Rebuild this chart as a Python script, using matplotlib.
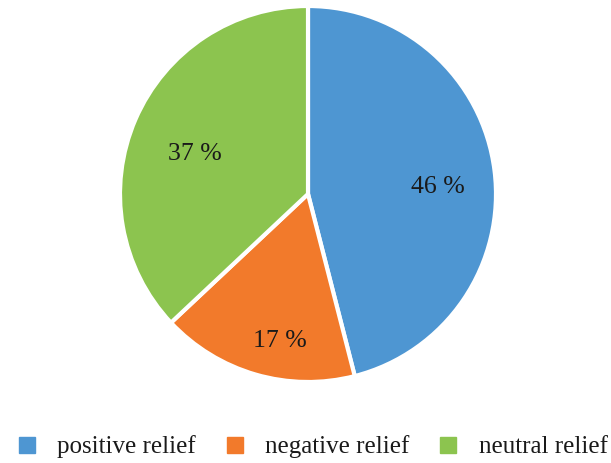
import matplotlib
matplotlib.use("Agg")
import matplotlib.pyplot as plt
from matplotlib.lines import Line2D

plt.rcParams['font.family'] = ['Liberation Serif', 'DejaVu Serif']

labels = ['positive relief', 'negative relief', 'neutral relief']
shares = [46, 17, 37]
colors = ['#4E96D2', '#F27A2B', '#8CC44F']
# where the percentage labels sit, in pie radius units (as in the original)
label_xy = [(0.69, 0.035), (-0.15, -0.78), (-0.60, 0.215)]

W, H = 611, 463
fig = plt.figure(figsize=(W / 100, H / 100), dpi=100)
cx, cy, r = 308, 194, 188
ax = fig.add_axes([(cx - r) / W, (H - cy - r) / H, 2 * r / W, 2 * r / H])

wedges, texts, autotexts = ax.pie(
    shares, colors=colors, startangle=90, counterclock=False,
    autopct=lambda p: f'{p:.0f} %',
    wedgeprops=dict(edgecolor='white', linewidth=3),
    textprops=dict(fontsize=18.5, color='#1a1a1a'))
ax.set_aspect('equal')
ax.set_xlim(-1, 1)
ax.set_ylim(-1, 1)

for t, xy in zip(autotexts, label_xy):
    t.set_position(xy)

handles = [Line2D([], [], marker='s', linestyle='none', markersize=12.2,
                  markerfacecolor=c, markeredgecolor=c) for c in colors]
leg = fig.legend(handles, labels, loc='center', ncol=3, frameon=False,
                 bbox_to_anchor=(311 / W, 1 - 447 / H), fontsize=18,
                 handletextpad=0.72, columnspacing=1.05, handlelength=1.0,
                 borderaxespad=0, borderpad=0)
for t in leg.get_texts():
    t.set_color('#1a1a1a')

fig.savefig('out.png', dpi=100)
